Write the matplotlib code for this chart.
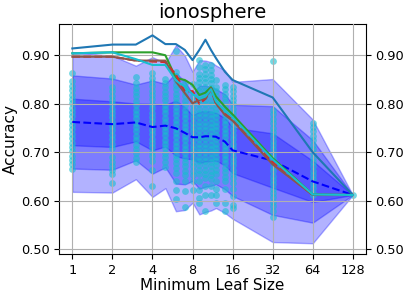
import numpy as np
import matplotlib
matplotlib.use('Agg')
import matplotlib.pyplot as plt

# minimum leaf sizes tried
leaf_sizes = [1, 2, 3, 4, 5, 6, 7, 8, 9, 10, 11, 12, 14, 16, 32, 64, 128]
tick_sizes = [1, 2, 4, 8, 16, 32, 64, 128]
y_ticks = [0.50, 0.60, 0.70, 0.80, 0.90]

# mean / std of the accuracy over all runs
mean_acc = [0.7625, 0.758, 0.7615, 0.752, 0.755, 0.7495, 0.74, 0.731, 0.731,
            0.733, 0.733, 0.732, 0.722, 0.704, 0.683, 0.64, 0.612]
std_acc = [0.048, 0.047, 0.039, 0.048, 0.043, 0.057, 0.053, 0.045, 0.053,
           0.052, 0.051, 0.049, 0.049, 0.047, 0.056, 0.0425, 0.0]

# best curves
best_c0 = [0.914, 0.922, 0.922, 0.941, 0.923, 0.923, 0.911, 0.890, 0.911,
           0.932, 0.911, 0.894, 0.866, 0.849, 0.813, 0.700, 0.612]
best_c2 = [0.904, 0.906, 0.906, 0.906, 0.900, 0.853, 0.849, 0.839, 0.818,
           0.823, 0.834, 0.815, 0.794, 0.778, 0.688, 0.613, 0.612]
best_c3 = [0.897, 0.897, 0.889, 0.887, 0.886, 0.860, 0.825, 0.826, 0.800,
           0.810, 0.830, 0.800, 0.780, 0.768, 0.680, 0.612, 0.612]
best_c5 = [0.897, 0.897, 0.889, 0.889, 0.889, 0.846, 0.822, 0.801, 0.808,
           0.811, 0.832, 0.801, 0.777, 0.765, 0.675, 0.612, 0.612]
best_c9 = [0.904, 0.906, 0.892, 0.880, 0.880, 0.848, 0.835, 0.820, 0.810,
           0.815, 0.830, 0.805, 0.785, 0.772, 0.685, 0.613, 0.612]

# individual run scores, one list per leaf size
runs_1 = [0.863, 0.846, 0.837, 0.828, 0.819, 0.81, 0.801, 0.792, 0.783, 0.774, 0.765,
          0.756, 0.747, 0.738, 0.729, 0.72, 0.711, 0.702, 0.693, 0.684, 0.675, 0.666]
runs_2 = [0.855, 0.835, 0.826, 0.817, 0.808, 0.799, 0.79, 0.781, 0.772, 0.763, 0.754,
          0.745, 0.736, 0.727, 0.718, 0.709, 0.69, 0.681, 0.672, 0.663, 0.655, 0.637]
runs_3 = [0.855, 0.842, 0.833, 0.824, 0.815, 0.806, 0.797, 0.788, 0.779, 0.77, 0.761,
          0.752, 0.743, 0.734, 0.725, 0.716, 0.707, 0.698, 0.689, 0.68]
runs_4 = [0.863, 0.854, 0.845, 0.836, 0.827, 0.818, 0.809, 0.8, 0.791, 0.782, 0.773,
          0.764, 0.755, 0.746, 0.737, 0.728, 0.719, 0.71, 0.701, 0.692, 0.683, 0.663, 0.63]
runs_5 = [0.852, 0.843, 0.834, 0.825, 0.816, 0.807, 0.798, 0.789, 0.78, 0.771, 0.762,
          0.753, 0.744, 0.735, 0.726, 0.717, 0.708, 0.699, 0.69, 0.681, 0.67]
runs_6 = [0.908, 0.866, 0.857, 0.848, 0.839, 0.83, 0.821, 0.812, 0.803, 0.794, 0.785,
          0.776, 0.767, 0.758, 0.749, 0.74, 0.731, 0.722, 0.713, 0.704, 0.695, 0.686,
          0.677, 0.668, 0.657, 0.64, 0.622, 0.603]
runs_7 = [0.842, 0.833, 0.824, 0.815, 0.806, 0.797, 0.788, 0.779, 0.77, 0.761, 0.752,
          0.743, 0.734, 0.725, 0.716, 0.707, 0.698, 0.689, 0.68, 0.671, 0.662, 0.653,
          0.64, 0.62, 0.587]
runs_8 = [0.84, 0.815, 0.806, 0.797, 0.788, 0.779, 0.77, 0.761, 0.752, 0.743, 0.734,
          0.725, 0.716, 0.707, 0.698, 0.689, 0.68, 0.671, 0.662, 0.653, 0.64, 0.622]
runs_9 = [0.89, 0.876, 0.862, 0.853, 0.844, 0.835, 0.826, 0.817, 0.808, 0.799, 0.79,
          0.781, 0.772, 0.763, 0.754, 0.745, 0.736, 0.727, 0.718, 0.709, 0.7, 0.691,
          0.682, 0.673, 0.664, 0.655, 0.64, 0.622, 0.605, 0.595]
runs_10 = [0.88, 0.871, 0.862, 0.853, 0.844, 0.835, 0.826, 0.817, 0.808, 0.799, 0.79,
           0.781, 0.772, 0.763, 0.754, 0.745, 0.736, 0.727, 0.718, 0.709, 0.7, 0.691,
           0.682, 0.673, 0.664, 0.655, 0.646, 0.63, 0.612, 0.578]
runs_11 = [0.88, 0.87, 0.86, 0.851, 0.842, 0.833, 0.824, 0.815, 0.806, 0.797, 0.788,
           0.779, 0.77, 0.761, 0.752, 0.743, 0.734, 0.725, 0.716, 0.707, 0.698, 0.689,
           0.68, 0.671, 0.662, 0.653, 0.644, 0.63, 0.612]
runs_12 = [0.849, 0.835, 0.826, 0.817, 0.808, 0.799, 0.79, 0.781, 0.772, 0.763, 0.754,
           0.745, 0.736, 0.727, 0.718, 0.709, 0.7, 0.691, 0.682, 0.673, 0.664, 0.655,
           0.64, 0.625, 0.612, 0.595]
runs_14 = [0.839, 0.83, 0.821, 0.812, 0.803, 0.794, 0.785, 0.776, 0.767, 0.758, 0.749,
           0.74, 0.731, 0.722, 0.713, 0.704, 0.695, 0.686, 0.677, 0.668, 0.659, 0.65,
           0.64, 0.625, 0.595, 0.578]
runs_16 = [0.835, 0.826, 0.817, 0.808, 0.799, 0.79, 0.781, 0.772, 0.763, 0.754, 0.745,
           0.736, 0.727, 0.718, 0.709, 0.7, 0.691, 0.682, 0.673, 0.664, 0.655, 0.646,
           0.637, 0.625, 0.61, 0.592, 0.585]
runs_32 = [0.888, 0.787, 0.778, 0.769, 0.76, 0.751, 0.742, 0.733, 0.724, 0.715, 0.706,
           0.697, 0.688, 0.679, 0.67, 0.661, 0.652, 0.643, 0.634, 0.625, 0.616, 0.607,
           0.598, 0.589, 0.58, 0.567]
runs_64 = [0.761, 0.752, 0.743, 0.734, 0.725, 0.716, 0.707, 0.698, 0.689, 0.68, 0.671,
           0.662, 0.653, 0.644, 0.635, 0.626, 0.617, 0.612]
runs_128 = [0.612]

all_runs = [runs_1, runs_2, runs_3, runs_4, runs_5, runs_6, runs_7, runs_8, runs_9,
            runs_10, runs_11, runs_12, runs_14, runs_16, runs_32, runs_64, runs_128]

x = np.array(leaf_sizes)
mean = np.array(mean_acc)
std = np.array(std_acc)

fig = plt.figure(figsize=(4.07, 2.97), dpi=100)
ax = fig.add_axes([0.1457, 0.145, 0.7528, 0.7745])

# std bands
for k in [3, 2, 1]:
    ax.fill_between(x, mean - k * std, mean + k * std, color='b', alpha=0.3)

# all runs
for size, scores in zip(leaf_sizes, all_runs):
    ax.scatter([size] * len(scores), scores, color='C9', alpha=0.6, s=24,
               linewidths=0, zorder=1.5)

ax.plot(x, mean, 'b--', zorder=3)
ax.plot(x, best_c0, color='C0', zorder=3)
ax.plot(x, best_c2, color='C2', zorder=3)
ax.plot(x, best_c3, '--', color='C3', zorder=3)
ax.plot(x, best_c5, color='C5', zorder=3)
ax.plot(x, best_c9, color='C9', zorder=3)

ax.set_xscale('log', base=2)
ax.set_xticks(tick_sizes)
ax.set_xticklabels([str(t) for t in tick_sizes])
ax.minorticks_off()
ax.set_xlim(0.798, 160)
ax.set_ylim(0.4905, 0.9646)
ax.set_yticks(y_ticks)
ax.set_yticklabels(['%.2f' % v for v in y_ticks])
ax.tick_params(axis='both', labelsize=9.3)
ax.tick_params(axis='y', right=True, labelright=True)
ax.set_axisbelow(False)
ax.grid(True, color='#b0b0b0', linewidth=0.8, zorder=2.5)

ax.set_xlabel('Minimum Leaf Size', fontsize=11, labelpad=1)
ax.set_ylabel('Accuracy', fontsize=11, labelpad=2)
ax.set_title('ionosphere', fontsize=14, pad=4)

plt.savefig('out.png', dpi=100)
